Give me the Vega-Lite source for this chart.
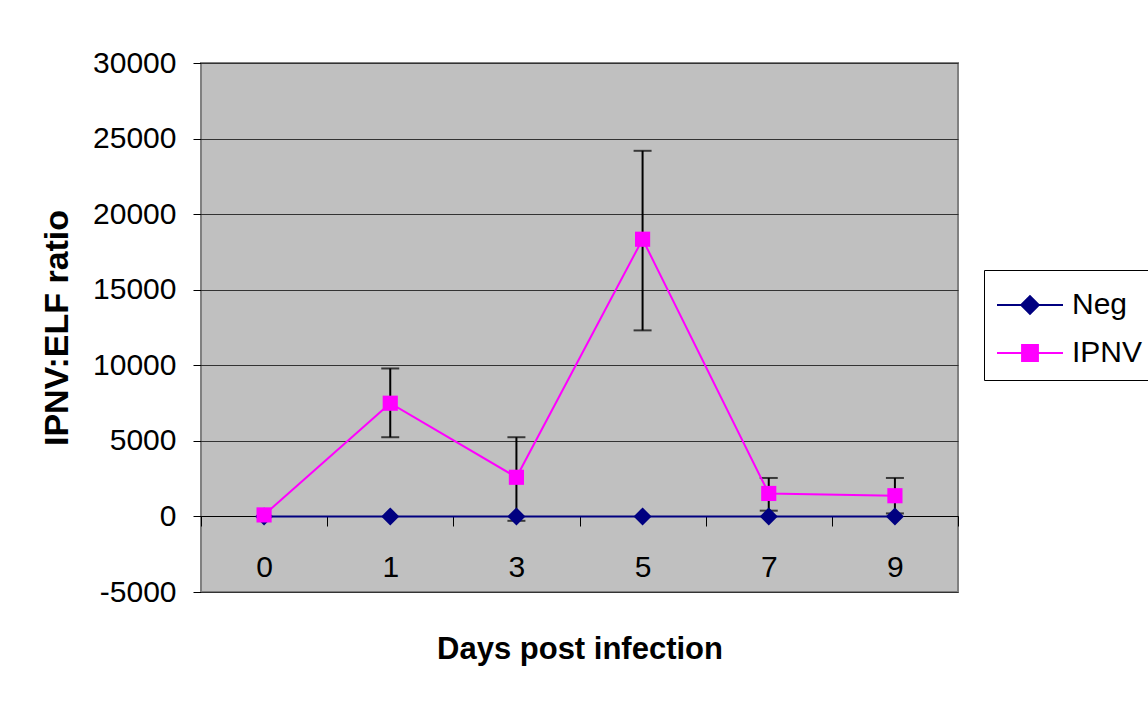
{
  "$schema": "https://vega.github.io/schema/vega-lite/v6.json",
  "width": 757,
  "height": 529,
  "autosize": {"type": "none"},
  "padding": {"left": 201, "top": 63, "right": 190, "bottom": 118},
  "background": "white",
  "config": {
    "font": "Liberation Sans",
    "view": {"fill": "#C0C0C0", "stroke": "#808080", "strokeWidth": 2}
  },
  "data": {
    "values": [
      {"day": "0", "series": "Neg", "value": 0, "lo": null, "hi": null},
      {"day": "1", "series": "Neg", "value": 0, "lo": null, "hi": null},
      {"day": "3", "series": "Neg", "value": 0, "lo": null, "hi": null},
      {"day": "5", "series": "Neg", "value": 0, "lo": null, "hi": null},
      {"day": "7", "series": "Neg", "value": 0, "lo": null, "hi": null},
      {"day": "9", "series": "Neg", "value": 0, "lo": null, "hi": null},
      {"day": "0", "series": "IPNV", "value": 100, "lo": null, "hi": null},
      {"day": "1", "series": "IPNV", "value": 7490, "lo": 5240, "hi": 9790},
      {"day": "3", "series": "IPNV", "value": 2590, "lo": -290, "hi": 5240},
      {"day": "5", "series": "IPNV", "value": 18340, "lo": 12310, "hi": 24190},
      {"day": "7", "series": "IPNV", "value": 1520, "lo": 380, "hi": 2545},
      {"day": "9", "series": "IPNV", "value": 1370, "lo": 200, "hi": 2545}
    ]
  },
  "encoding": {
    "x": {
      "field": "day",
      "type": "ordinal",
      "sort": ["0", "1", "3", "5", "7", "9"],
      "bandPosition": 0.5,
      "scale": {"type": "band", "paddingInner": 0, "paddingOuter": 0},
      "axis": {
        "title": "Days post infection",
        "titleFont": "Liberation Sans",
        "titleFontSize": 31,
        "titleFontWeight": "bold",
        "titleColor": "black",
        "titlePadding": 52,
        "offset": -76,
        "tickBand": "extent",
        "tickSize": 10,
        "tickColor": "black",
        "domainColor": "black",
        "labelFontSize": 30,
        "labelColor": "black",
        "labelAngle": 0,
        "labelPadding": 26,
        "grid": false
      }
    }
  },
  "layer": [
    {
      "transform": [{"filter": "datum.hi != null"}],
      "mark": {"type": "rule", "color": "black", "strokeWidth": 2},
      "encoding": {
        "y": {"field": "lo", "type": "quantitative"},
        "y2": {"field": "hi"}
      }
    },
    {
      "transform": [{"filter": "datum.hi != null"}],
      "mark": {"type": "tick", "color": "black", "size": 18, "thickness": 2},
      "encoding": {"y": {"field": "lo", "type": "quantitative"}}
    },
    {
      "transform": [{"filter": "datum.hi != null"}],
      "mark": {"type": "tick", "color": "black", "size": 18, "thickness": 2},
      "encoding": {"y": {"field": "hi", "type": "quantitative"}}
    },
    {
      "mark": {"type": "line", "strokeWidth": 2},
      "encoding": {
        "y": {
          "field": "value",
          "type": "quantitative",
          "scale": {"domain": [-5000, 30000], "nice": false},
          "axis": {
            "title": "IPNV:ELF ratio",
            "titleFont": "Liberation Sans",
            "titleFontSize": 34,
            "titleFontWeight": "bold",
            "titleColor": "black",
            "titlePadding": 18,
            "values": [-5000, 0, 5000, 10000, 15000, 20000, 25000, 30000],
            "labelExpr": "'' + datum.value",
            "labelFontSize": 30,
            "labelColor": "black",
            "labelPadding": 17,
            "tickSize": 8,
            "tickColor": "black",
            "domain": false,
            "grid": true,
            "gridColor": "#333333",
            "gridWidth": 1
          }
        },
        "color": {
          "field": "series",
          "type": "nominal",
          "sort": ["Neg", "IPNV"],
          "scale": {"domain": ["Neg", "IPNV"], "range": ["#000080", "#FF00FF"]},
          "legend": {
            "title": null,
            "orient": "none",
            "legendX": 783,
            "legendY": 207,
            "strokeColor": "black",
            "fillColor": "white",
            "padding": 12,
            "symbolSize": 1936,
            "symbolStrokeWidth": 2,
            "labelFontSize": 30,
            "labelColor": "black",
            "labelOffset": 30,
            "rowPadding": 10,
            "encode": {
              "symbols": {
                "update": {
                  "shape": {"signal": "datum.value === 'Neg' ? 'M-1,0H2M0.1,0L0.5,-0.4L0.9,0L0.5,0.4Z' : 'M-1,0H2M0.14,-0.36H0.86V0.36H0.14Z'"},
                  "fill": {"scale": "color", "field": "value"},
                  "stroke": {"scale": "color", "field": "value"},
                  "strokeWidth": {"value": 2}
                }
              }
            }
          }
        }
      }
    },
    {
      "transform": [{"filter": "datum.series === 'Neg'"}],
      "mark": {"type": "point", "shape": "diamond", "filled": true, "size": 324, "opacity": 1, "color": "#000080"},
      "encoding": {"y": {"field": "value", "type": "quantitative"}}
    },
    {
      "transform": [{"filter": "datum.series === 'IPNV'"}],
      "mark": {"type": "point", "shape": "square", "filled": true, "size": 230, "opacity": 1, "color": "#FF00FF"},
      "encoding": {"y": {"field": "value", "type": "quantitative"}}
    }
  ]
}
